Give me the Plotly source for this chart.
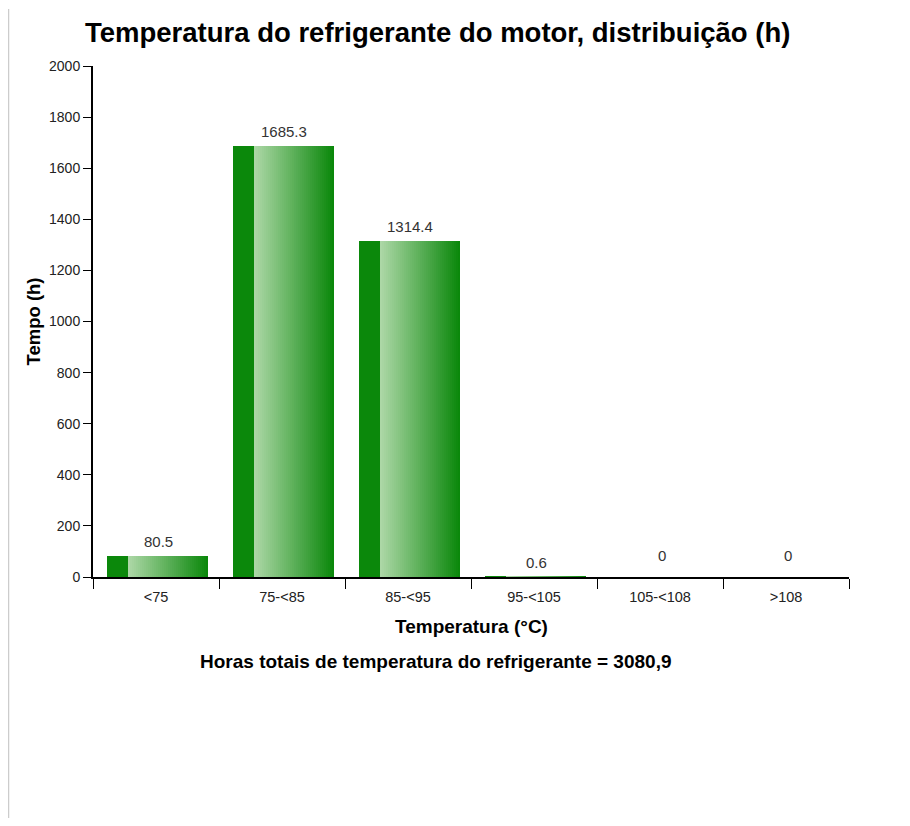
import plotly.graph_objects as go

# ── data ────────────────────────────────────────────────────────────────
categories = ["<75", "75-<85", "85-<95", "95-<105", "105-<108", ">108"]
hours = [80.5, 1685.3, 1314.4, 0.6, 0, 0]
value_labels = ["80.5", "1685.3", "1314.4", "0.6", "0", "0"]
y_ticks = list(range(0, 2001, 200))

TITLE = "Temperatura do refrigerante do motor, distribuição (h)"
X_TITLE = "Temperatura (°C)"
Y_TITLE = "Tempo (h)"
FOOTER = "Horas totais de temperatura do refrigerante = 3080,9"

# ── style ───────────────────────────────────────────────────────────────
FONT = "Liberation Sans, Arial, sans-serif"
DARK = (11, 136, 11)
LIGHT = (172, 215, 166)
BAR_W = 0.794        # bar width in category units
SHIFT = 0.012        # bars sit a hair right of the category centre
DARK_FRAC = 0.2      # solid dark strip on the left of each bar
N_STRIPS = 40

W, H = 894, 810
L, R, T, B = 85, 53, 58, 241


def _mix(a, b, t):
    return "rgb({},{},{})".format(*[round(a[i] + (b[i] - a[i]) * t) for i in range(3)])


fig = go.Figure()

# solid dark strip
left = -BAR_W / 2 + SHIFT
fig.add_trace(go.Bar(
    x=categories, y=hours, width=BAR_W * DARK_FRAC + 0.002, offset=left,
    marker=dict(color=_mix(DARK, DARK, 0), line=dict(width=0)),
    hoverinfo="skip", showlegend=False,
))

# gradient body, light -> dark
grad_w = BAR_W * (1 - DARK_FRAC)
step = grad_w / N_STRIPS
for i in range(N_STRIPS):
    fig.add_trace(go.Bar(
        x=categories, y=hours,
        width=step * 1.6 if i < N_STRIPS - 1 else step,
        offset=left + BAR_W * DARK_FRAC + i * step,
        marker=dict(color=_mix(LIGHT, DARK, i / (N_STRIPS - 1)), line=dict(width=0)),
        hovertemplate="<b>%{x}</b><br>%{y} h<extra></extra>",
        showlegend=False,
    ))

# value labels above bars
annotations = []
for cat, v, lab in zip(categories, hours, value_labels):
    annotations.append(dict(
        x=cat, y=v, xref="x", yref="y", text=lab, showarrow=False,
        yanchor="bottom", yshift=4 if v > 0 else 11, xshift=2,
        font=dict(size=15, color="#333333", family=FONT),
    ))

annotations += [
    dict(text=f"<b>{TITLE}</b>", x=(429 - L) / (W - L - R), y=1, xref="paper", yref="paper",
         yanchor="middle", yshift=34, showarrow=False,
         font=dict(size=27.5, color="#000000", family=FONT)),
    dict(text=f"<b>{X_TITLE}</b>", x=0.5, y=0, xref="paper", yref="paper",
         yanchor="middle", yshift=-49, showarrow=False,
         font=dict(size=19, color="#000000", family=FONT)),
    dict(text=f"<b>{FOOTER}</b>", x=(427 - L) / (W - L - R), y=0, xref="paper", yref="paper",
         yanchor="middle", yshift=-84, showarrow=False,
         font=dict(size=19, color="#000000", family=FONT)),
    dict(text=f"<b>{Y_TITLE}</b>", x=0, y=0.5, xref="paper", yref="paper",
         xanchor="center", xshift=-60, textangle=-90, showarrow=False,
         font=dict(size=18.5, color="#000000", family=FONT)),
]

plot_w = W - L - R
plot_h = H - T - B
fig.update_layout(
    width=W, height=H,
    margin=dict(l=L, r=R, t=T, b=B),
    paper_bgcolor="white", plot_bgcolor="white",
    barmode="overlay", bargap=0,
    font=dict(family=FONT, size=14, color="#222222"),
    annotations=annotations,
    shapes=[dict(
        type="line", xref="paper", yref="paper",
        x0=-(L - 0.5) / plot_w, x1=-(L - 0.5) / plot_w,
        y0=(plot_h + T - 1) / plot_h, y1=-B / plot_h,
        line=dict(color="#cccccc", width=1.5),
    )],
    xaxis=dict(
        type="category", showgrid=False, zeroline=False,
        showline=True, linecolor="#000000", linewidth=1.5,
        ticks="outside", tickson="boundaries", ticklen=10, tickcolor="#000000",
        ticklabelstandoff=6,
        tickfont=dict(size=14.5, color="#222222"),
    ),
    yaxis=dict(
        range=[0, 2000], tickvals=y_ticks, showgrid=False, zeroline=False,
        showline=True, linecolor="#000000", linewidth=2,
        ticks="outside", ticklen=8, tickcolor="#000000",
        tickfont=dict(size=14, color="#222222"),
    ),
)

fig.write_html("out.html")
